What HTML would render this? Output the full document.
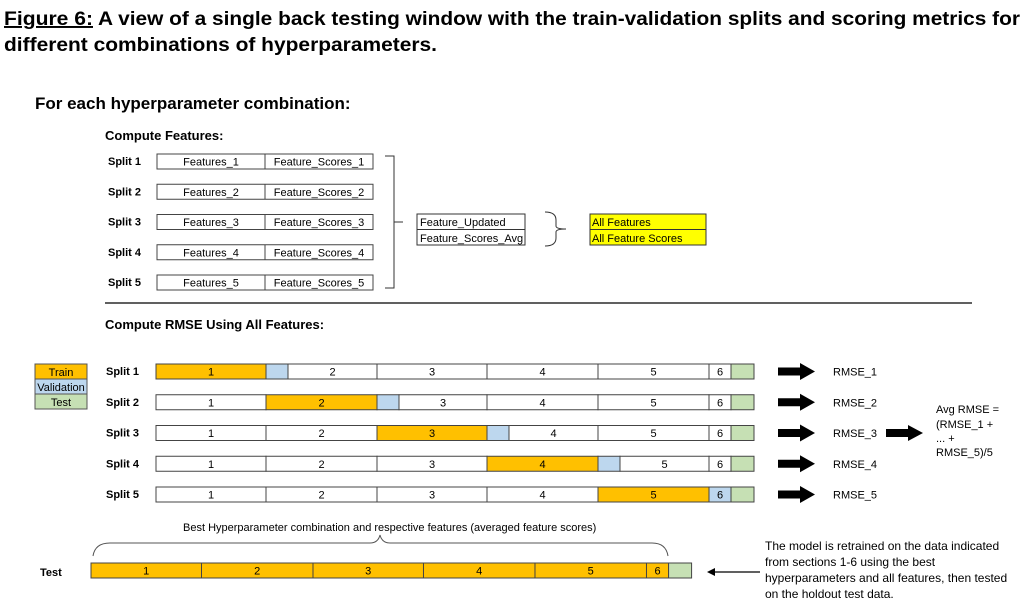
<!DOCTYPE html>
<html><head><meta charset="utf-8"><style>
body{margin:0;background:#fff;width:1032px;height:606px;overflow:hidden}
svg text{font-family:"Liberation Sans",sans-serif}
</style></head><body>
<svg id="fig" width="1032" height="606" viewBox="0 0 1032 606">
<g font-weight="bold" font-size="19.5">
<text x="4" y="25" text-decoration="underline" textLength="89" lengthAdjust="spacingAndGlyphs">Figure 6:</text>
<text x="98" y="25" textLength="922" lengthAdjust="spacingAndGlyphs">A view of a single back testing window with the train-validation splits and scoring metrics for</text>
<text x="4" y="51" textLength="433" lengthAdjust="spacingAndGlyphs">different combinations of hyperparameters.</text>
</g>
<text x="35" y="109" font-size="17" font-weight="bold">For each hyperparameter combination:</text>
<text x="105" y="140" font-size="13" font-weight="bold">Compute Features:</text>
<g id="feat"></g>
<g fill="none" stroke="#333" stroke-width="1">
<path d="M385 156 H394 V288 H385 M394 222 H403"/>
</g>
<g>
<rect x="417" y="214" width="108" height="31" fill="#fff" stroke="#333"/>
<line x1="417" y1="229.5" x2="525" y2="229.5" stroke="#333"/>
<text x="420" y="226" font-size="11">Feature_Updated</text>
<text x="420" y="242" font-size="11">Feature_Scores_Avg</text>
</g>
<path d="M545 212 Q556 212 556 220 V226 Q556 229 566 229 Q556 229 556 232 V238 Q556 246 545 246" fill="none" stroke="#333"/>
<g>
<rect x="590" y="214" width="116" height="31" fill="#ffff00" stroke="#333"/>
<line x1="590" y1="229.5" x2="706" y2="229.5" stroke="#333"/>
<text x="592" y="226" font-size="11">All Features</text>
<text x="592" y="242" font-size="11">All Feature Scores</text>
</g>
<line x1="105" y1="303" x2="972" y2="303" stroke="#000" stroke-width="1.2"/>
<text x="105" y="329" font-size="13" font-weight="bold">Compute RMSE Using All Features:</text>
<g font-size="11" text-anchor="middle">
<rect x="35" y="364" width="52" height="15" fill="#ffc000" stroke="#555"/>
<text x="61" y="376">Train</text>
<rect x="35" y="379" width="52" height="15" fill="#bdd7ee" stroke="#555"/>
<text x="61" y="391">Validation</text>
<rect x="35" y="394" width="52" height="15" fill="#c6e0b4" stroke="#555"/>
<text x="61" y="406">Test</text>
</g>
<g id="splits"></g>
<g font-size="11">
<path d="M886 429 H908 V425 L923 433 L908 441 V437 H886 Z" fill="#000"/>
<text x="936" y="413">Avg RMSE =</text>
<text x="936" y="428">(RMSE_1 +</text>
<text x="936" y="442">... +</text>
<text x="936" y="456">RMSE_5)/5</text>
</g>
<text x="183" y="531" font-size="11">Best Hyperparameter combination and respective features (averaged feature scores)</text>
<path d="M93 556 Q95 543 110 543 H370 Q378 543 380 535 Q382 543 390 543 H652 Q666 543 668 556" fill="none" stroke="#555"/>
<text x="40" y="576" font-size="11" font-weight="bold">Test</text>
<g id="testbar"></g>
<g>
<line x1="713" y1="572" x2="760" y2="572" stroke="#000" stroke-width="1.2"/>
<path d="M707 572 L715 568 L715 576 Z" fill="#000"/>
</g>
<g font-size="12">
<text x="765" y="550">The model is retrained on the data indicated</text>
<text x="765" y="566">from sections 1-6 using the best</text>
<text x="765" y="582">hyperparameters and all features, then tested</text>
<text x="765" y="598">on the holdout test data.</text>
</g>
</svg>
<script>
const NS="http://www.w3.org/2000/svg";
const splitNames=["Split 1","Split 2","Split 3","Split 4","Split 5"];
const featureLabels=["Features_1","Features_2","Features_3","Features_4","Features_5"];
const scoreLabels=["Feature_Scores_1","Feature_Scores_2","Feature_Scores_3","Feature_Scores_4","Feature_Scores_5"];
const segLabels=["1","2","3","4","5","6"];
const segWidths=[110,111,110,111,111,22];
const trainSeg=[0,1,2,3,4];
const rmseLabels=["RMSE_1","RMSE_2","RMSE_3","RMSE_4","RMSE_5"];
function mk(tag,attrs,parent){const e=document.createElementNS(NS,tag);for(const k in attrs)e.setAttribute(k,attrs[k]);parent.appendChild(e);return e;}
const feat=document.getElementById('feat');
splitNames.forEach((s,i)=>{
 const y=154+i*30.25;
 const g=mk('g',{},feat);
 
 
 const t=mk('text',{x:108,y:y+11,'font-size':11,'font-weight':'bold'},g);t.textContent=s;
 mk('rect',{x:157,y:y,width:216,height:15,fill:'#fff',stroke:'#444'},g);
 mk('line',{x1:265,y1:y,x2:265,y2:y+15,stroke:'#444'},g);
 const a=mk('text',{x:211,y:y+11.5,'font-size':11,'text-anchor':'middle'},g);a.textContent=featureLabels[i];
 const b=mk('text',{x:319,y:y+11.5,'font-size':11,'text-anchor':'middle'},g);b.textContent=scoreLabels[i];
});
function bar(parent,x0,y,trainSet,scale){
 let x=x0;
 segLabels.forEach((lab,j)=>{
  const w=segWidths[j]*scale;
  const r=mk('rect',{x:x,y:y,width:w,height:15,fill:trainSet.includes(j)?'#ffc000':'#fff',stroke:'#444'},parent);
  
  
  const t=mk('text',{x:x+w/2,y:y+11.5,'font-size':11,'text-anchor':'middle'},parent);t.textContent=lab;
  x+=w;
 });
 mk('rect',{x:x,y:y,width:23,height:15,fill:'#c6e0b4',stroke:'#444'},parent);
}
const sp=document.getElementById('splits');
splitNames.forEach((s,i)=>{
 const y=364+i*30.75;
 const g=mk('g',{},sp);
 
 
 const t=mk('text',{x:106,y:y+11,'font-size':11,'font-weight':'bold'},g);t.textContent=s;
 let x=156;
 segLabels.forEach((lab,j)=>{
  let w=segWidths[j];
  const isTrain=j===trainSeg[i];
  const valStart=(j===trainSeg[i]+1&&j<5);
  let fill=isTrain?'#ffc000':'#fff';
  if(j===5&&trainSeg[i]===4)fill='#bdd7ee';
  if(valStart){mk('rect',{x:x,y:y,width:22,height:15,fill:'#bdd7ee',stroke:'#444'},g);
   mk('rect',{x:x+22,y:y,width:w-22,height:15,fill:'#fff',stroke:'#444'},g);
   const tt=mk('text',{x:x+11+w/2,y:y+11.5,'font-size':11,'text-anchor':'middle'},g);tt.textContent=lab;}
  else{mk('rect',{x:x,y:y,width:w,height:15,fill:fill,stroke:'#444'},g);
   const tt=mk('text',{x:x+w/2,y:y+11.5,'font-size':11,'text-anchor':'middle'},g);tt.textContent=lab;}
  x+=w;
 });
 mk('rect',{x:x,y:y,width:23,height:15,fill:'#c6e0b4',stroke:'#444'},g);
 const ar=mk('path',{d:`M778 ${y+3.5} H800 V${y-1} L815 ${y+7.5} L800 ${y+16} V${y+11.5} H778 Z`,fill:'#000'},g);
 
 
 const rt=mk('text',{x:833,y:y+11.5,'font-size':11},g);rt.textContent=rmseLabels[i];
});
const tb=document.getElementById('testbar');


bar(tb,91,563,[0,1,2,3,4,5],1.0045);
</script>
</body></html>
